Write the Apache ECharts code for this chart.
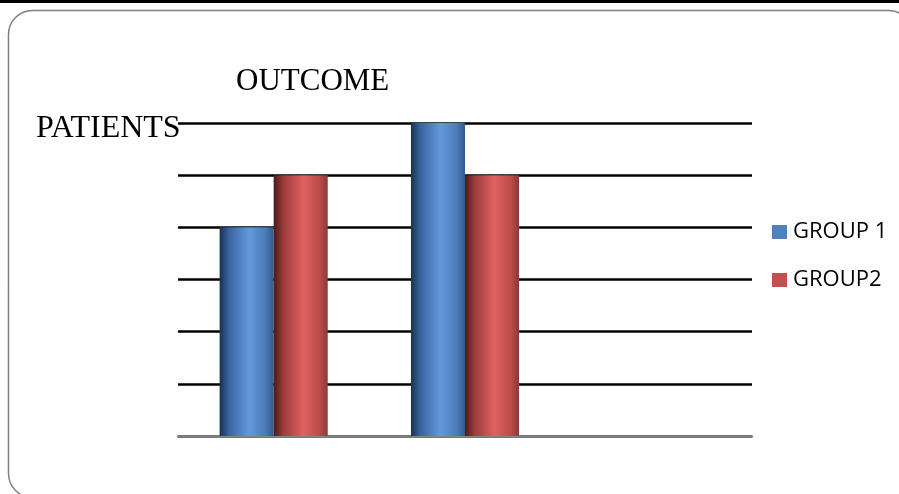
<!DOCTYPE html>
<html>
<head>
<meta charset="utf-8">
<script src="https://cdn.jsdelivr.net/npm/echarts@6/dist/echarts.min.js"></script>
<style>
  html, body { margin: 0; padding: 0; background: #fff; }
  #chart { width: 899px; height: 494px; }
</style>
</head>
<body>
<div id="chart"></div>
<script>
// Outcome per group
const categories = ['1', '2', '3'];
const group1 = [4, 6, null];
const group2 = [5, 5, null];
const seriesNames = ['GROUP 1', 'GROUP2'];

function cylinder(stops) {
  return new echarts.graphic.LinearGradient(0, 0, 1, 0,
    stops.map(([offset, color]) => ({ offset, color })));
}

const blueFill = cylinder([[0, '#1c3150'], [0.18, '#3b64a0'], [0.55, '#6399dc'], [0.85, '#4a7bb9'], [1, '#35598b']]);
const redFill = cylinder([[0, '#4a1a1a'], [0.18, '#9c3c3b'], [0.55, '#e0625f'], [0.85, '#b84c4a'], [1, '#8c3837']]);

const chart = echarts.init(document.getElementById('chart'));
chart.setOption({
  animation: false,
  backgroundColor: '#fff',
  graphic: [
    { type: 'rect', shape: { x: 0, y: 0, width: 899, height: 3 }, style: { fill: '#000' }, z: -1 },
    { type: 'rect', shape: { x: 8.5, y: 10.5, width: 904, height: 487, r: 24 },
      style: { fill: 'none', stroke: '#808080', lineWidth: 1.5 }, z: -1 }
  ],
  title: [
    { text: 'OUTCOME', left: 231, top: 61,
      textStyle: { fontFamily: 'Liberation Serif', fontWeight: 'normal', fontSize: 31, color: '#000' } },
    { text: 'PATIENTS', left: 31, top: 108,
      textStyle: { fontFamily: 'Liberation Serif', fontWeight: 'normal', fontSize: 32, color: '#000' } }
  ],
  legend: {
    orient: 'vertical', left: 767, top: 216, itemWidth: 15, itemHeight: 14, itemGap: 26,
    icon: 'rect',
    textStyle: { fontFamily: 'Open Sans', fontSize: 22, lineHeight: 22, color: '#000', padding: [0, 0, 0, 1] },
    data: [
      { name: seriesNames[0], itemStyle: { color: '#4f81bd' } },
      { name: seriesNames[1], itemStyle: { color: '#c0504d' } }
    ]
  },
  grid: { left: 178, right: 147, top: 123, bottom: 58 },
  xAxis: {
    type: 'category', data: categories,
    axisLine: { lineStyle: { color: '#868686', width: 2.5 } },
    axisTick: { show: false }, axisLabel: { show: false }
  },
  yAxis: {
    type: 'value', min: 0, max: 6, interval: 1,
    axisLine: { show: false }, axisTick: { show: false }, axisLabel: { show: false },
    splitLine: { lineStyle: { color: '#000', width: 2.5 } }
  },
  series: [
    { name: seriesNames[0], type: 'bar', data: group1, barGap: '0%', barCategoryGap: '43.5%',
      itemStyle: { color: blueFill } },
    { name: seriesNames[1], type: 'bar', data: group2,
      itemStyle: { color: redFill } }
  ]
});
</script>
</body>
</html>
